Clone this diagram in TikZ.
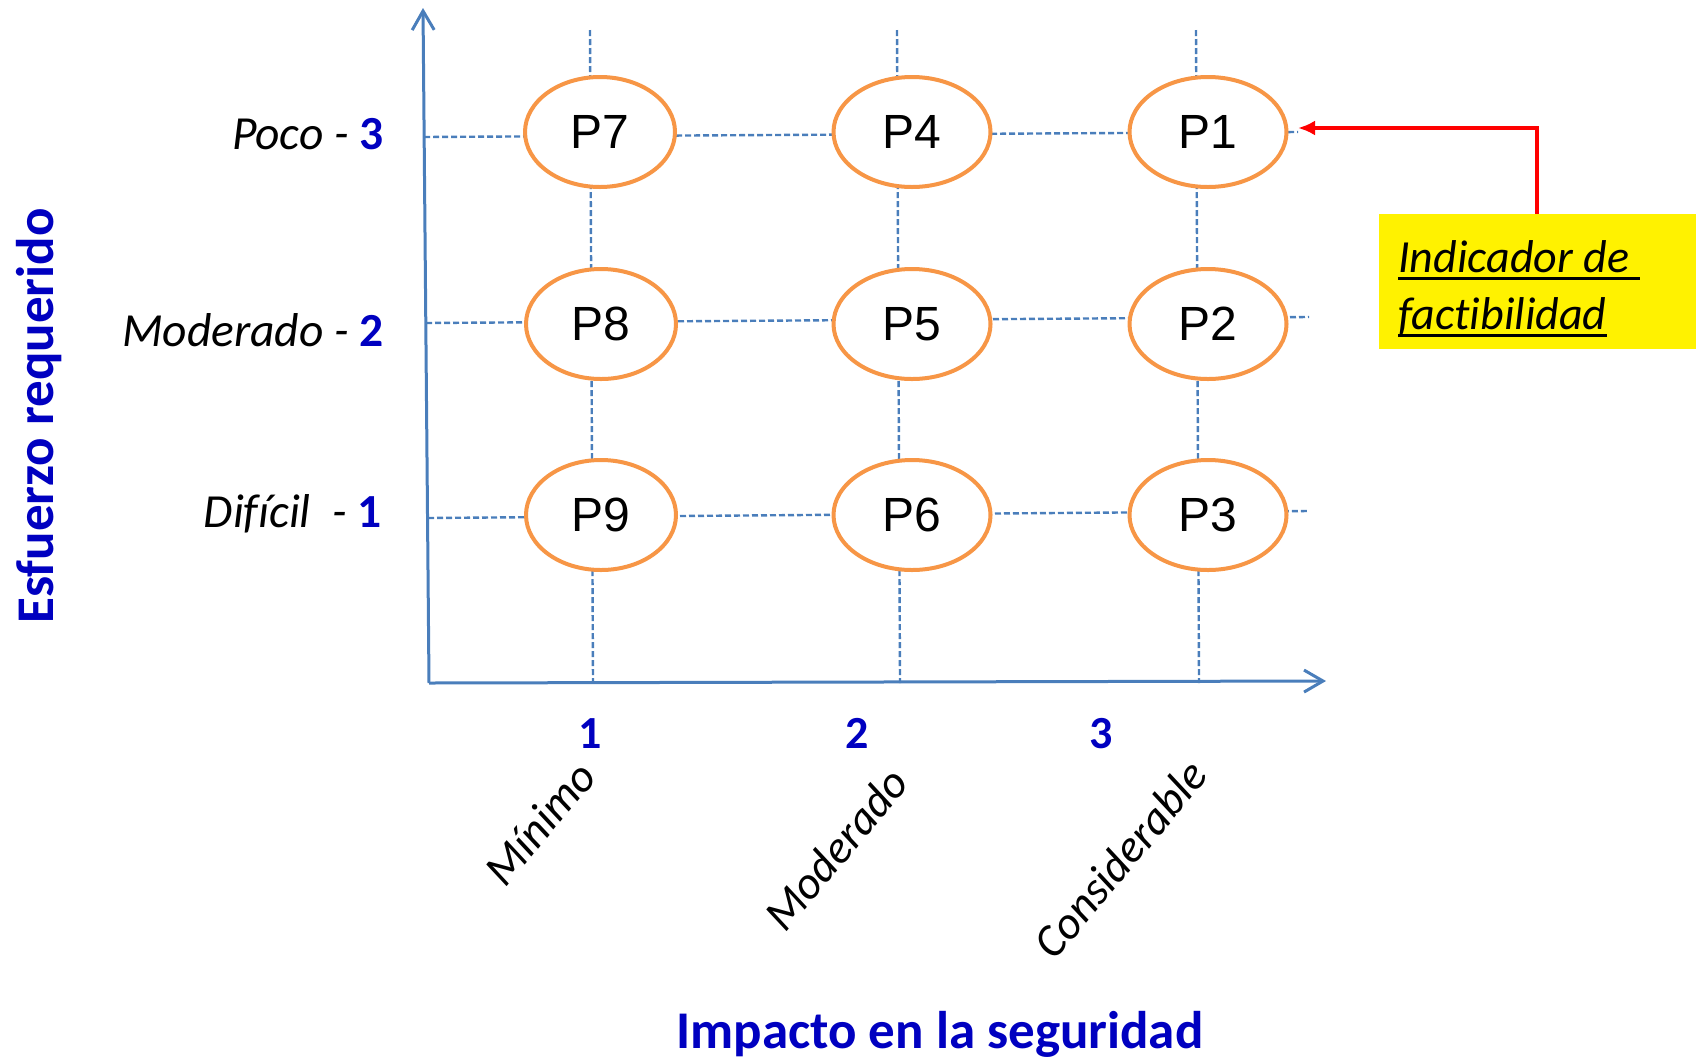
\documentclass[tikz,border=0pt]{standalone}
\usepackage{fontspec}
\setmainfont{Carlito}[Ligatures=NoCommon]
\newfontfamily\arialf{Liberation Sans}
\usetikzlibrary{arrows.meta,shapes.geometric}
\definecolor{axisblue}{RGB}{74,126,187}
\definecolor{ptorange}{RGB}{247,150,70}
\definecolor{titleblue}{RGB}{0,0,192}
\newcommand{\myul}[1]{\setbox0\hbox{#1}\rlap{\rule[-7pt]{\wd0}{3pt}}\box0}
\tikzset{
  gridline/.style={draw=axisblue, line width=2.4pt, dash pattern=on 6pt off 3pt},
  axisline/.style={draw=axisblue, line width=3pt, -{Straight Barb[length=19pt,width=22pt,line width=3pt]}},
  pnode/.style={ellipse, draw=ptorange, line width=4pt, fill=white, minimum width=157pt, minimum height=110pt, inner sep=0pt, font=\arialf\fontsize{48}{48}\selectfont},
  pnodenarrow/.style={pnode, minimum width=150pt},
  rowlab/.style={anchor=base east, inner sep=0pt, font=\fontsize{47.5}{47.5}\selectfont\itshape},
  numlab/.style={anchor=base, inner sep=0pt, text=titleblue, font=\fontsize{46}{46}\selectfont\bfseries},
  collab/.style={rotate=50, inner sep=0pt, font=\fontsize{46}{46}\selectfont\itshape},
  axtitle/.style={anchor=base, inner sep=0pt, text=titleblue, font=\fontsize{53}{53}\selectfont\bfseries},
}
\begin{document}
\begin{tikzpicture}[x=1pt,y=-1pt]
\useasboundingbox (0,0) rectangle (1696,1061);
% grid coordinates
\coordinate (v1t) at (590,30);  \coordinate (v1b) at (593,683);
\coordinate (v2t) at (897,30);  \coordinate (v2b) at (900,683);
\coordinate (v3t) at (1196,30); \coordinate (v3b) at (1199,683);
\coordinate (h1l) at (424,137); \coordinate (h1r) at (1298,132);
\coordinate (h2l) at (426,323); \coordinate (h2r) at (1309,317);
\coordinate (h3l) at (428,518); \coordinate (h3r) at (1309,511);
\draw[gridline] (v1t) -- (v1b);
\draw[gridline] (v2t) -- (v2b);
\draw[gridline] (v3t) -- (v3b);
\draw[gridline] (h1l) -- (h1r);
\draw[gridline] (h2l) -- (h2r);
\draw[gridline] (h3l) -- (h3r);
% axes
\coordinate (O) at (429,683);
\coordinate (Ytip) at (423,8);
\coordinate (Xtip) at (1326,681);
\draw[axisline] (O) -- (Ytip);
\draw[axisline] (O) -- (Xtip);
% ellipses
\node[pnodenarrow] (P7) at (600,132) {P7};
\node[pnode] (P4) at (912,132) {P4};
\node[pnode] (P1) at (1208,132) {P1};
\node[pnodenarrow] (P8) at (601,324) {P8};
\node[pnode] (P5) at (912,324) {P5};
\node[pnode] (P2) at (1208,324) {P2};
\node[pnodenarrow] (P9) at (601,515) {P9};
\node[pnode] (P6) at (912,515) {P6};
\node[pnode] (P3) at (1208,515) {P3};
% row labels
\node[rowlab] (r3) at (384,149) {Poco - \textcolor{titleblue}{\upshape\bfseries 3}};
\node[rowlab] (r2) at (384,346) {Moderado - \textcolor{titleblue}{\upshape\bfseries 2}};
\node[rowlab] (r1) at (382,527) {Difícil \ - \textcolor{titleblue}{\upshape\bfseries 1}};
% column numbers
\node[numlab] (c1) at (590,748) {1};
\node[numlab] (c2) at (857,748) {2};
\node[numlab] (c3) at (1101,748) {3};
% rotated column labels
\node[collab] (m1) at (540,823) {Mínimo};
\node[collab] (m2) at (836,849) {Moderado};
\node[collab] (m3) at (1120,859) {Considerable};
% axis titles
\node[axtitle, rotate=90] (ytitle) at (53,416) {Esfuerzo requerido};
\node[axtitle] (xtitle) at (940,1048) {Impacto en la seguridad};
% indicator box
\node[fill=yellow, anchor=north west, inner sep=0pt, font=\fontsize{46}{57}\selectfont\itshape] (ind) at (1379,214)
  {\parbox[c][135pt][c]{317pt}{\vspace*{14pt}\hspace*{19pt}\myul{Indicador de\ }\\\hspace*{19pt}\myul{factibilidad}}};
\coordinate (arrtip) at (1298,128);
\draw[red, line width=4pt, -{Latex[length=17pt,width=15pt]}] (ind.north -| 1537,0) |- (arrtip);
\end{tikzpicture}
\end{document}
